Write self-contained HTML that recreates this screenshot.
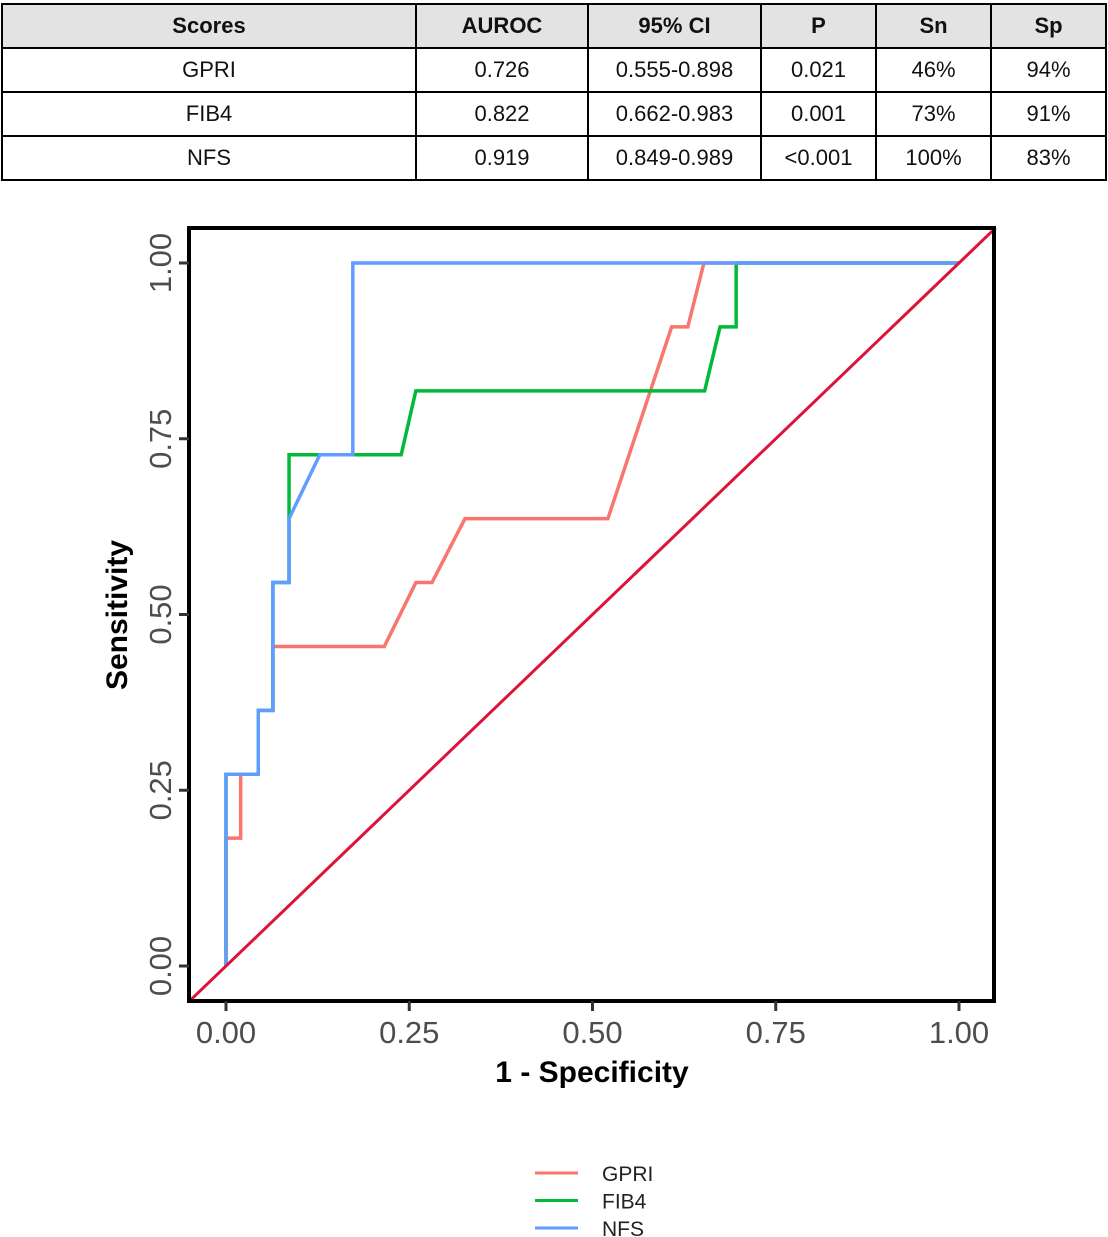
<!DOCTYPE html>
<html><head><meta charset="utf-8"><style>
body{margin:0;width:1108px;height:1237px;background:#fff;overflow:hidden;font-family:"Liberation Sans",sans-serif;}
table{position:absolute;left:1px;top:3px;border-collapse:collapse;}
td,th{border:2px solid #000;height:42px;padding:0;text-align:center;font-size:22px;color:#111;}
th{background:#e3e3e3;font-weight:bold;}
svg{position:absolute;left:0;top:0;}
</style></head><body>
<table>
<tr><th style="width:412px">Scores</th><th style="width:170px">AUROC</th><th style="width:171px">95% CI</th><th style="width:113px">P</th><th style="width:113px">Sn</th><th style="width:113px">Sp</th></tr>
<tr><td>GPRI</td><td>0.726</td><td>0.555-0.898</td><td>0.021</td><td>46%</td><td>94%</td></tr>
<tr><td>FIB4</td><td>0.822</td><td>0.662-0.983</td><td>0.001</td><td>73%</td><td>91%</td></tr>
<tr><td>NFS</td><td>0.919</td><td>0.849-0.989</td><td>&lt;0.001</td><td>100%</td><td>83%</td></tr>
</table>
<svg id="chart" width="1108" height="1237"></svg>
<script>
const ticks=[0,0.25,0.5,0.75,1];
const tickLabels=["0.00","0.25","0.50","0.75","1.00"];
const seriesNames=["GPRI","FIB4","NFS"];
const seriesColors=["#f8766d","#00ba38","#619cff"];
const gpriX=[0,0,0.02,0.02,0.044,0.044,0.064,0.064,0.216,0.259,0.281,0.326,0.521,0.608,0.63,0.652,1];
const gpriY=[0,2/11,2/11,3/11,3/11,4/11,4/11,5/11,5/11,6/11,6/11,7/11,7/11,10/11,10/11,1,1];
const fib4X=[0,0,0.044,0.044,0.064,0.064,0.086,0.086,0.239,0.259,0.653,0.674,0.696,0.696,1];
const fib4Y=[0,3/11,3/11,4/11,4/11,6/11,6/11,8/11,8/11,9/11,9/11,10/11,10/11,1,1];
const nfsX=[0,0,0.044,0.044,0.064,0.064,0.086,0.086,0.128,0.173,0.173,1];
const nfsY=[0,3/11,3/11,4/11,4/11,6/11,6/11,7/11,8/11,8/11,1,1];
const NS="http://www.w3.org/2000/svg";
const svg=document.getElementById('chart');
const sx=v=>226+733*v, sy=v=>966-703*v;
function mk(t,a,p){const e=document.createElementNS(NS,t);for(const k in a)e.setAttribute(k,a[k]);(p||svg).appendChild(e);return e;}
const series=[[gpriX,gpriY],[fib4X,fib4Y],[nfsX,nfsY]];
series.forEach((s,i)=>{
 const pts=s[0].map((x,j)=>sx(x)+','+sy(s[1][j])).join(' ');
 const l=mk('polyline',{points:pts,fill:'none',stroke:seriesColors[i],'stroke-width':3.5});
 
 
});
const d=mk('line',{x1:sx(-0.05),y1:sy(-0.05),x2:sx(1.05),y2:sy(1.05),stroke:'#dc143c','stroke-width':3});


const fr=mk('rect',{x:189,y:228,width:805,height:773,fill:'none',stroke:'#000','stroke-width':4});


ticks.forEach((t,i)=>{
 mk('line',{x1:179,x2:189,y1:sy(t),y2:sy(t),stroke:'#333','stroke-width':3});
 mk('line',{y1:1001,y2:1011,x1:sx(t),x2:sx(t),stroke:'#333','stroke-width':3});
 const xl=mk('text',{x:sx(t),y:1043,'text-anchor':'middle','font-size':31,fill:'#4d4d4d'});xl.textContent=tickLabels[i];
 
 
 const yl=mk('text',{x:0,y:0,'text-anchor':'middle','font-size':31,fill:'#4d4d4d',transform:`translate(171,${sy(t)}) rotate(-90)`});yl.textContent=tickLabels[i];
 
 
});
const xt=mk('text',{x:592,y:1082,'text-anchor':'middle','font-size':30,'font-weight':'bold',fill:'#000'});xt.textContent='1 - Specificity';


const yt=mk('text',{x:0,y:0,'text-anchor':'middle','font-size':30,'font-weight':'bold',fill:'#000',transform:'translate(127,615) rotate(-90)'});yt.textContent='Sensitivity';


seriesNames.forEach((n,i)=>{
 const y=1173+27.5*i;
 const g=mk('g',{});
 
 
 mk('line',{x1:535,x2:578,y1:y,y2:y,stroke:seriesColors[i],'stroke-width':3},g);
 const t=mk('text',{x:602,y:y+8,'font-size':21,fill:'#222'},g);t.textContent=n;
});
</script>
</body></html>
